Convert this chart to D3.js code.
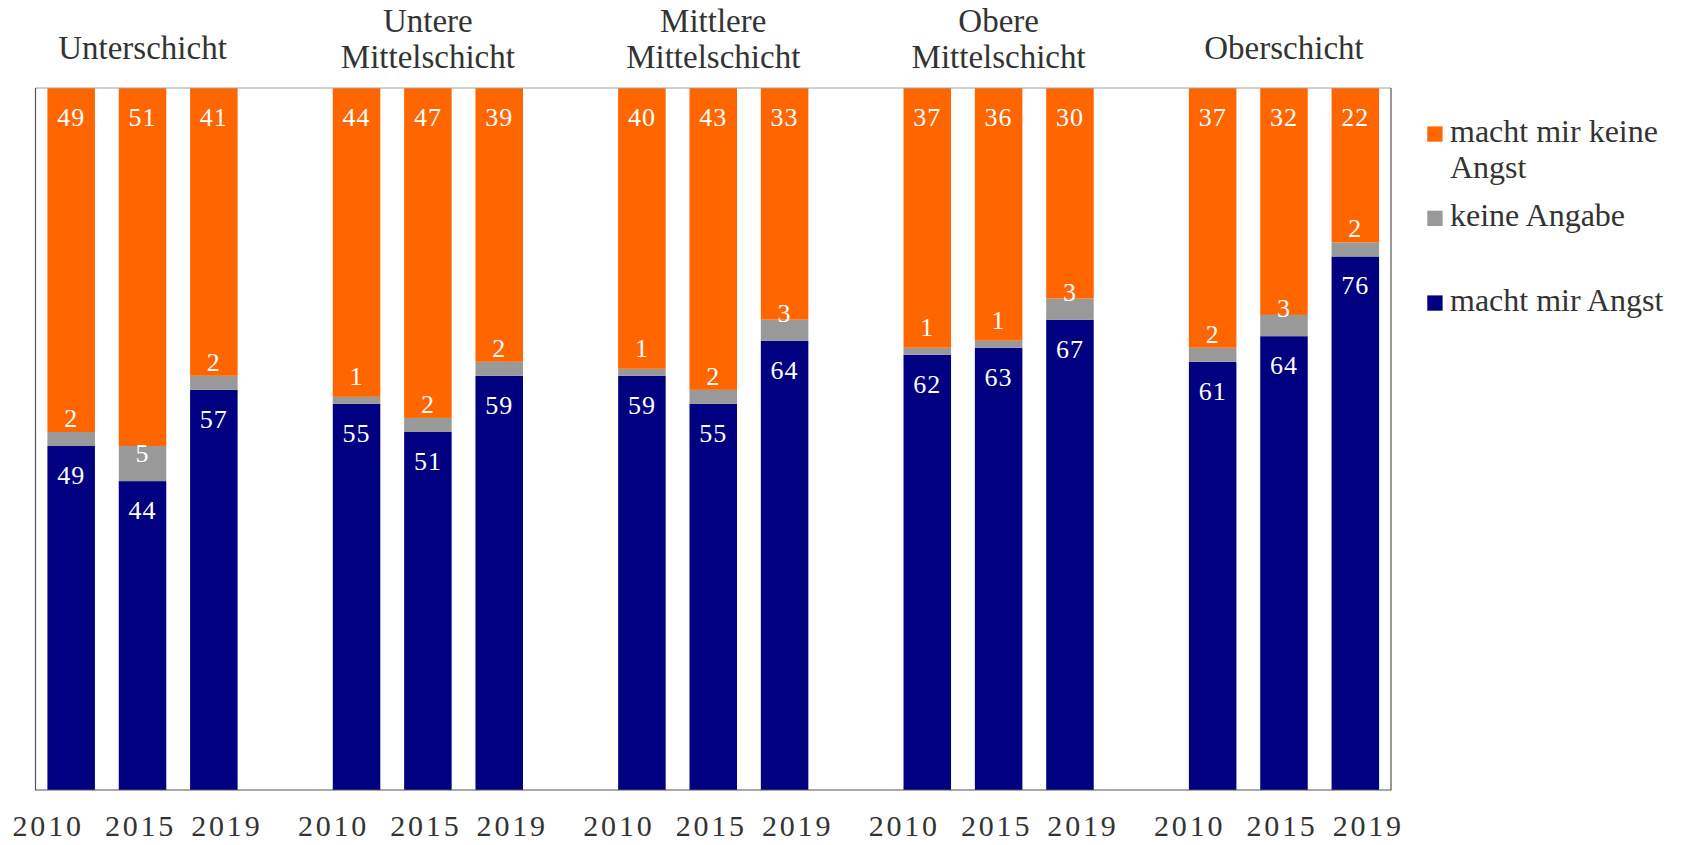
<!DOCTYPE html>
<html>
<head>
<meta charset="utf-8">
<script src="https://cdn.jsdelivr.net/npm/d3@7"></script>
<style>
  html, body { margin: 0; padding: 0; background: #fff; }
  svg { display: block; }
  text { font-family: "Liberation Serif", "DejaVu Serif", serif; }
</style>
</head>
<body>
<svg id="chart" width="1687" height="845"></svg>
<script>
// Social classes (title lines) and survey years
const classes = ["Unterschicht", "Untere Mittelschicht", "Mittlere Mittelschicht", "Obere Mittelschicht", "Oberschicht"];
const classLines = [["Unterschicht"], ["Untere", "Mittelschicht"], ["Mittlere", "Mittelschicht"], ["Obere", "Mittelschicht"], ["Oberschicht"]];
const years = ["2010", "2015", "2019"];

// Shares in percent, one row per class, one value per year
const machtAngst      = [[49, 44, 57], [55, 51, 59], [59, 55, 64], [62, 63, 67], [61, 64, 76]];
const keineAngabe     = [[2, 5, 2],    [1, 2, 2],    [1, 2, 3],    [1, 1, 3],    [2, 3, 2]];
const machtKeineAngst = [[49, 51, 41], [44, 47, 39], [40, 43, 33], [37, 36, 30], [37, 32, 22]];

const seriesKeys = ["angst", "ka", "keine"];
const seriesLabels = { angst: "macht mir Angst", ka: "keine Angabe", keine: "macht mir keine Angst" };
const colors = { angst: "#000080", ka: "#999999", keine: "#ff6600" };

const rows = [];
classes.forEach((c, g) => years.forEach((y, j) => {
  rows.push({ cls: c, year: y, angst: machtAngst[g][j], ka: keineAngabe[g][j], keine: machtKeineAngst[g][j] });
}));

const svg = d3.select("#chart");
const plot = { left: 35.5, right: 1391, top: 88, bottom: 790 };
const groupStep = (plot.right - plot.left) / 19 * 4;

const x0 = d3.scaleBand().domain(classes).range([plot.left, plot.left + groupStep * classes.length]);
const x1 = d3.scaleBand().domain(years).range([0, groupStep * 3 / 4]).paddingInner(0.334).paddingOuter(0.167);
const y = d3.scaleLinear().domain([0, 1]).range([plot.bottom, plot.top]);

const stacked = d3.stack().keys(seriesKeys).offset(d3.stackOffsetExpand)(rows);

// Bars
const layers = svg.append("g").selectAll("g").data(stacked).join("g").attr("fill", d => colors[d.key]);
layers.selectAll("rect").data(d => d).join("rect")
  .attr("x", d => x0(d.data.cls) + x1(d.data.year))
  .attr("width", x1.bandwidth())
  .attr("y", d => y(d[1]))
  .attr("height", d => y(d[0]) - y(d[1]));

// Value labels
const lab = svg.append("g").attr("fill", "#fff").attr("font-size", 26).attr("text-anchor", "middle");
stacked.forEach(layer => {
  layer.forEach(d => {
    const cx = x0(d.data.cls) + x1(d.data.year) + x1.bandwidth() / 2;
    let by;
    if (layer.key === "ka") by = y(d[0]) - 19;
    else by = y(d[1]) + 38;
    lab.append("text").attr("x", cx).attr("y", by).attr("letter-spacing", 1).text(d.data[layer.key]);
  });
});

// Frame
const frame = svg.append("g").attr("fill", "none");
frame.append("line").attr("x1", plot.left).attr("x2", plot.right).attr("y1", plot.top).attr("y2", plot.top).attr("stroke", "#a0a0a0").attr("stroke-width", 1.2);
frame.append("path")
  .attr("d", `M${plot.left},${plot.top}V${plot.bottom}H${plot.right}V${plot.top}`)
  .attr("stroke", "#555").attr("stroke-width", 1.2);

// Class titles
const titles = svg.append("g").attr("fill", "#333").attr("font-size", 33).attr("text-anchor", "middle");
classes.forEach((c, g) => {
  const cx = x0(c) + x1.range()[1] / 2;
  const lines = classLines[g];
  lines.forEach((t, i) => {
    const by = lines.length === 1 ? 58.7 : 31.7 + i * 36.6;
    titles.append("text").attr("x", cx).attr("y", by).text(t);
  });
});

// Year labels below the frame
const yearShift = { "2010": -23, "2015": -2, "2019": 13 };
const yl = svg.append("g").attr("fill", "#333").attr("font-size", 30).attr("text-anchor", "middle");
rows.forEach(d => {
  yl.append("text")
    .attr("x", x0(d.cls) + x1(d.year) + x1.bandwidth() / 2 + yearShift[d.year])
    .attr("y", 836)
    .attr("letter-spacing", 2.8)
    .text(d.year);
});

// Legend
const legendItems = [
  { key: "keine", lines: ["macht mir keine", "Angst"], y: 141.7 },
  { key: "ka", lines: [seriesLabels.ka], y: 226 },
  { key: "angst", lines: [seriesLabels.angst], y: 310.7 }
];
const lg = svg.append("g");
legendItems.forEach(it => {
  lg.append("rect").attr("x", 1427.3).attr("y", it.y - 15.3).attr("width", 15.3).attr("height", 15.3).attr("fill", colors[it.key]);
  it.lines.forEach((t, i) => {
    lg.append("text").attr("x", 1450).attr("y", it.y + i * 36).attr("font-size", 32).attr("fill", "#333").text(t);
  });
});
</script>
</body>
</html>
